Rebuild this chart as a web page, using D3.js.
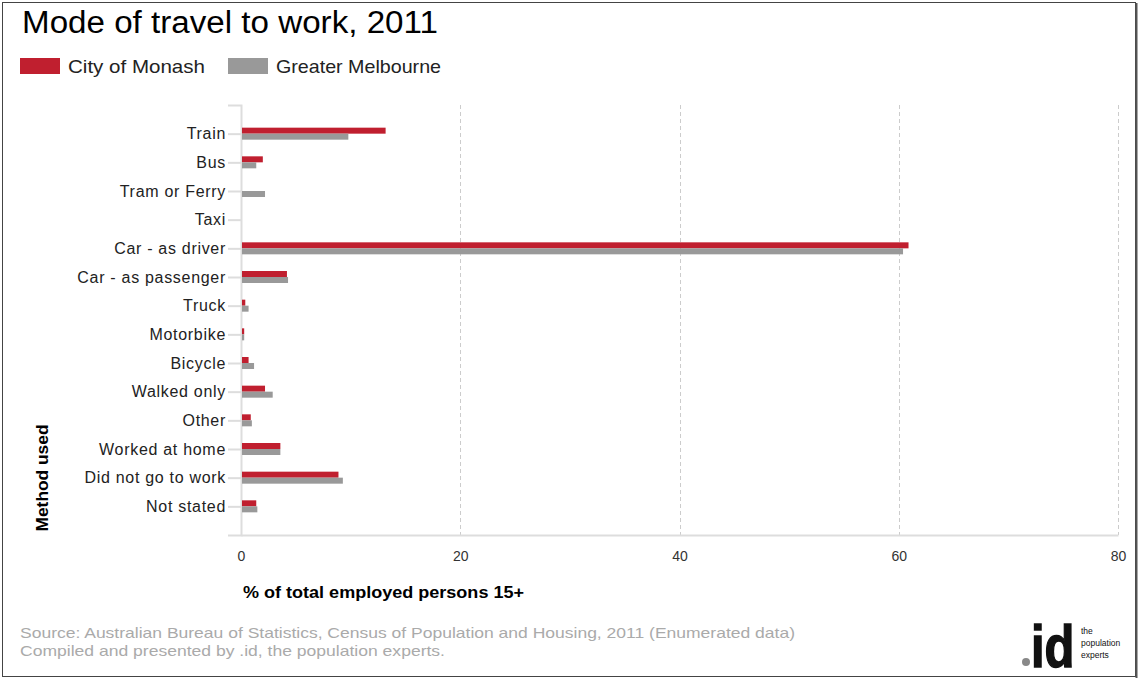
<!DOCTYPE html>
<html><head><meta charset="utf-8">
<script src="https://cdn.jsdelivr.net/npm/d3@7"></script>
<style>body{margin:0;background:#fff;font-family:"Liberation Sans",Arial,sans-serif;}</style>
</head><body>
<svg id="c" width="1139" height="680"></svg>
<script>
const categories = ["Train","Bus","Tram or Ferry","Taxi","Car - as driver","Car - as passenger","Truck","Motorbike","Bicycle","Walked only","Other","Worked at home","Did not go to work","Not stated"];
const monash = [13.1,1.9,0.0,0.0,60.8,4.1,0.3,0.2,0.6,2.1,0.8,3.5,8.8,1.3];
const melbourne = [9.7,1.3,2.1,0.0,60.3,4.2,0.6,0.2,1.1,2.8,0.9,3.5,9.2,1.4];
const seriesNames = ["City of Monash","Greater Melbourne"];
const colors = ["#c01f2f","#999999"];
const xTicks = [0,20,40,60,80];

const svg = d3.select("#c");
const font = "'Liberation Sans', Arial, sans-serif";

// frame
svg.append("rect").attr("x",2.5).attr("y",2.5).attr("width",1133).attr("height",674)
  .attr("fill","none").attr("stroke","#444").attr("stroke-width",1);
svg.append("line").attr("x1",1136.5).attr("x2",1136.5).attr("y1",3).attr("y2",678).attr("stroke","#555").attr("stroke-width",2);

// title
svg.append("text").attr("x",22).attr("y",33).attr("font-family",font).attr("font-size",31)
  .attr("textLength",416).attr("lengthAdjust","spacingAndGlyphs")
  .attr("fill","#000").text("Mode of travel to work, 2011");

// legend
const lg = [{x:20,tx:68,w:137},{x:228,tx:276,w:165}];
seriesNames.forEach((s,i)=>{
  svg.append("rect").attr("x",lg[i].x).attr("y",58).attr("width",40).attr("height",16).attr("fill",colors[i]);
  svg.append("text").attr("x",lg[i].tx).attr("y",73).attr("font-family",font).attr("font-size",19)
    .attr("textLength",lg[i].w).attr("lengthAdjust","spacingAndGlyphs")
    .attr("fill","#222").text(s);
});

const x = d3.scaleLinear().domain([0,80]).range([241,1118]);
const y = d3.scalePoint().domain(categories).range([105,535]).padding(1);

// gridlines
svg.append("g").selectAll("line").data(xTicks.filter(d=>d>0)).join("line")
  .attr("x1",d=>Math.round(x(d))+0.5).attr("x2",d=>Math.round(x(d))+0.5)
  .attr("y1",105).attr("y2",535).attr("stroke","#ccc").attr("stroke-dasharray","4,3");

// x axis
const xa = svg.append("g").attr("transform","translate(0,535)")
  .call(d3.axisBottom(x).tickValues(xTicks).tickSize(0).tickPadding(16));
xa.select(".domain").attr("stroke","#ddd").attr("stroke-width",2);
xa.selectAll("text").attr("font-family",font).attr("font-size",14).attr("fill","#333");

// y axis
const ya = svg.append("g").attr("transform","translate(241,0)")
  .call(d3.axisLeft(y).tickSize(13).tickPadding(2).tickSizeOuter(13));
ya.select(".domain").attr("stroke","#ddd").attr("stroke-width",2);
ya.selectAll(".tick line").attr("stroke","#ddd").attr("stroke-width",2);
ya.selectAll("text").attr("font-family",font).attr("font-size",16).attr("letter-spacing",0.7).attr("fill","#222");

// bars
const bh = 6;
[monash, melbourne].forEach((vals,si)=>{
  svg.append("g").selectAll("rect").data(categories).join("rect")
    .attr("x",x(0)+1)
    .attr("y",(d)=>y(d)-bh+si*bh)
    .attr("width",(d,i)=>Math.max(0,x(vals[i])-x(0)))
    .attr("height",bh)
    .attr("fill",colors[si]);
});

// axis titles
svg.append("text").attr("transform","translate(48,478) rotate(-90)").attr("text-anchor","middle")
  .attr("font-family",font).attr("font-size",16).attr("font-weight","bold").attr("fill","#000")
  .attr("textLength",107).attr("lengthAdjust","spacingAndGlyphs").text("Method used");
svg.append("text").attr("x",243).attr("y",598).attr("font-family",font).attr("font-size",16)
  .attr("textLength",281).attr("lengthAdjust","spacingAndGlyphs")
  .attr("font-weight","bold").attr("fill","#000").text("% of total employed persons 15+");

// source
svg.append("text").attr("x",20).attr("y",638).attr("font-family",font).attr("font-size",15).attr("fill","#aaa")
  .attr("textLength",775).attr("lengthAdjust","spacingAndGlyphs")
  .text("Source: Australian Bureau of Statistics, Census of Population and Housing, 2011 (Enumerated data)");
svg.append("text").attr("x",20).attr("y",656).attr("font-family",font).attr("font-size",15).attr("fill","#aaa")
  .attr("textLength",425).attr("lengthAdjust","spacingAndGlyphs")
  .text("Compiled and presented by .id, the population experts.");

// logo
svg.append("circle").attr("cx",1026).attr("cy",662).attr("r",4).attr("fill","#888");
svg.append("text").attr("transform","translate(1031,667) scale(1,1.2)").attr("font-family",font).attr("font-size",49)
  .attr("font-weight","bold").attr("fill","#111").attr("stroke","#111").attr("stroke-width",1.2)
  .text("id");
["the","population","experts"].forEach((t,i)=>{
  svg.append("text").attr("x",1081).attr("y",634+i*12).attr("font-family",font).attr("font-size",8.5)
    .attr("fill","#111").text(t);
});
</script>
</body></html>
